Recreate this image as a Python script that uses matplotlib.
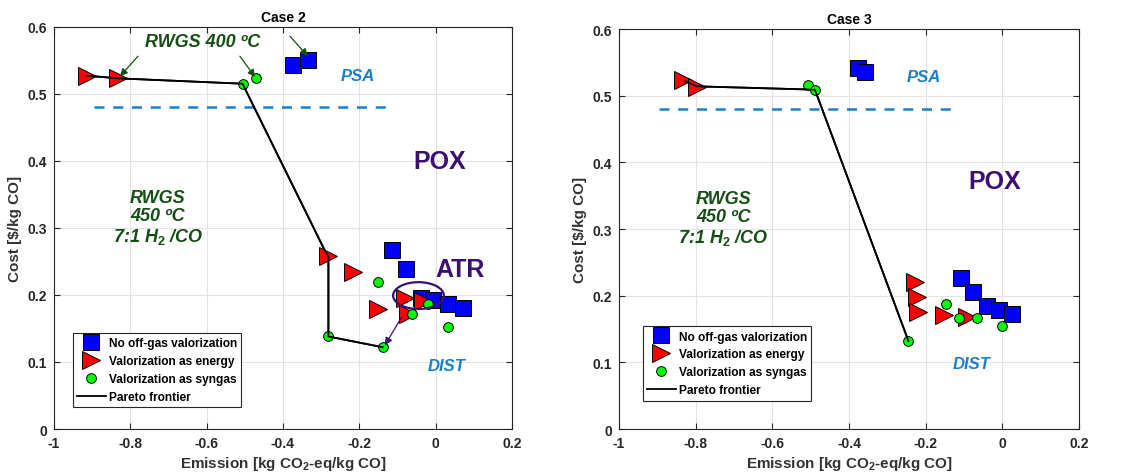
import matplotlib
matplotlib.use("Agg")
import matplotlib.pyplot as plt
from matplotlib.patches import Ellipse

plt.rcParams['font.family'] = ['Liberation Sans', 'DejaVu Sans']
plt.rcParams['font.weight'] = 'bold'
plt.rcParams['axes.labelweight'] = 'bold'
plt.rcParams['axes.titleweight'] = 'bold'
plt.rcParams['mathtext.fontset'] = 'custom'
plt.rcParams['mathtext.rm'] = 'Liberation Sans:bold'
plt.rcParams['mathtext.bf'] = 'Liberation Sans:bold'
plt.rcParams['mathtext.it'] = 'Liberation Sans:bold:italic'

# ---- Case 2 data ----
c2_none_x = [-0.373, -0.334, -0.115, -0.078, -0.039, -0.006, 0.033, 0.071]
c2_none_y = [0.543, 0.551, 0.267, 0.239, 0.195, 0.193, 0.186, 0.180]
c2_energy_x = [-0.914, -0.832, -0.281, -0.216, -0.150, -0.080, -0.072, -0.032]
c2_energy_y = [0.527, 0.523, 0.258, 0.234, 0.179, 0.195, 0.171, 0.191]
c2_syngas_x = [-0.506, -0.472, -0.152, -0.019, -0.063, 0.033, -0.281, -0.139]
c2_syngas_y = [0.515, 0.524, 0.220, 0.187, 0.171, 0.152, 0.138, 0.122]
c2_pareto_x = [-0.914, -0.832, -0.506, -0.292, -0.281, -0.281, -0.139]
c2_pareto_y = [0.527, 0.523, 0.515, 0.268, 0.258, 0.138, 0.122]

# ---- Case 3 data ----
c3_none_x = [-0.376, -0.358, -0.109, -0.076, -0.041, -0.008, 0.024]
c3_none_y = [0.542, 0.535, 0.226, 0.206, 0.184, 0.179, 0.1725]
c3_energy_x = [-0.832, -0.797, -0.228, -0.223, -0.219, -0.152, -0.091]
c3_energy_y = [0.523, 0.513, 0.220, 0.198, 0.176, 0.171, 0.168]
c3_syngas_x = [-0.508, -0.489, -0.147, -0.113, -0.065, 0.000, -0.245]
c3_syngas_y = [0.516, 0.509, 0.1875, 0.166, 0.1665, 0.154, 0.132]
c3_pareto_x = [-0.828, -0.797, -0.489, -0.245]
c3_pareto_y = [0.522, 0.514, 0.509, 0.132]

psa_level = 0.48
psa_x = [-0.895, -0.125]

dark_green = '#154e15'
purple = '#3b0f70'
lblue = '#1a7fc9'

fig = plt.figure(figsize=(11.34, 4.77), dpi=100)
ax2 = fig.add_axes([0.0476, 0.0985, 0.4039, 0.8434])
ax3 = fig.add_axes([0.5459, 0.0985, 0.4056, 0.8386])


def setup(ax, title):
    ax.set_xlim(-1, 0.2)
    ax.set_ylim(0, 0.6)
    ax.set_xticks([-1, -0.8, -0.6, -0.4, -0.2, 0, 0.2])
    ax.set_xticklabels(['-1', '-0.8', '-0.6', '-0.4', '-0.2', '0', '0.2'])
    ax.set_yticks([0, 0.1, 0.2, 0.3, 0.4, 0.5, 0.6])
    ax.set_yticklabels(['0', '0.1', '0.2', '0.3', '0.4', '0.5', '0.6'])
    ax.grid(True, color='#e3e3e3', lw=0.8)
    ax.set_axisbelow(True)
    ax.tick_params(direction='in', top=True, right=True, length=4, width=0.8,
                   labelsize=10, colors='#262626', pad=5)
    for lab in ax.get_xticklabels() + ax.get_yticklabels():
        lab.set_fontweight('bold')
    for s in ax.spines.values():
        s.set_color('#262626')
        s.set_linewidth(0.8)
    ax.set_title(title, fontsize=10, fontweight='bold', pad=4)
    ax.set_xlabel('Emission [kg CO$_2$-eq/kg CO]', fontsize=11, fontweight='bold',
                  color='#333333', labelpad=3)
    ax.set_ylabel(r'Cost [\$/kg CO]', fontsize=11, fontweight='bold',
                  color='#333333', labelpad=4)


def draw(ax, nx, ny, ex, ey, sx, sy, px, py, leg_anchor):
    ax.plot(psa_x, [psa_level, psa_level], ls=(0, (4, 3.5)), color=lblue, lw=1.8, zorder=2)
    hp, = ax.plot(px, py, color='black', lw=1.3, zorder=3)
    hn, = ax.plot(nx, ny, ls='none', marker='s', ms=11, mfc='#0000ff', mec='black', mew=0.7, zorder=4)
    he, = ax.plot(ex, ey, ls='none', marker='>', ms=13, mfc='#ff0000', mec='black', mew=0.7, zorder=5)
    hs, = ax.plot(sx, sy, ls='none', marker='o', ms=7, mfc='#00ff00', mec='black', mew=0.7, zorder=6)
    ax.plot(px, py, color='black', lw=1.3, zorder=7)
    leg = ax.legend([hn, he, hs, hp],
                    ['No off-gas valorization', 'Valorization as energy',
                     'Valorization as syngas', 'Pareto frontier'],
                    loc='lower left', bbox_to_anchor=leg_anchor, borderaxespad=0,
                    fancybox=False, framealpha=1, edgecolor='#262626',
                    handlelength=2.4, handletextpad=0.25, labelspacing=0.5,
                    borderpad=0.35, prop={'weight': 'bold', 'size': 8.6})
    leg.get_frame().set_linewidth(0.8)


setup(ax2, 'Case 2')
setup(ax3, 'Case 3')
draw(ax2, c2_none_x, c2_none_y, c2_energy_x, c2_energy_y, c2_syngas_x, c2_syngas_y,
     c2_pareto_x, c2_pareto_y, (0.041, 0.054))
draw(ax3, c3_none_x, c3_none_y, c3_energy_x, c3_energy_y, c3_syngas_x, c3_syngas_y,
     c3_pareto_x, c3_pareto_y, (0.0515, 0.071))

# ---- text labels, Case 2 ----
ax2.text(-0.61, 0.578, 'RWGS 400 ºC', color=dark_green, fontsize=13, style='italic',
         fontweight='bold', ha='center', va='center')
ax2.text(-0.203, 0.527, 'PSA', color=lblue, fontsize=12, style='italic', fontweight='bold',
         ha='center', va='center')
ax2.text(0.011, 0.399, 'POX', color=purple, fontsize=18, fontweight='bold', ha='center', va='center')
ax2.text(0.064, 0.238, 'ATR', color=purple, fontsize=18, fontweight='bold', ha='center', va='center')
ax2.text(0.029, 0.094, 'DIST', color=lblue, fontsize=12, style='italic', fontweight='bold',
         ha='center', va='center')
ax2.text(-0.728, 0.316, 'RWGS\n450 ºC\n7:1 H$_\\mathit{2}$ /CO', color=dark_green, fontsize=13,
         style='italic', fontweight='bold', ha='center', va='center', linespacing=1.1)

arrow_g = dict(arrowstyle='-|>', color=dark_green, lw=0.9, mutation_scale=11, shrinkA=0, shrinkB=0)
ax2.annotate('', xy=(-0.827, 0.526), xytext=(-0.780, 0.556), arrowprops=arrow_g, zorder=8)
ax2.annotate('', xy=(-0.473, 0.525), xytext=(-0.513, 0.556), arrowprops=arrow_g, zorder=8)
ax2.annotate('', xy=(-0.335, 0.556), xytext=(-0.382, 0.586), arrowprops=arrow_g, zorder=8)
arrow_p = dict(arrowstyle='-|>', color=purple, lw=0.9, mutation_scale=11, shrinkA=0, shrinkB=0)
ax2.annotate('', xy=(-0.133, 0.125), xytext=(-0.089, 0.167), arrowprops=arrow_p, zorder=8)
ax2.add_patch(Ellipse((-0.045, 0.199), 0.133, 0.040, fill=False, ec=purple, lw=1.6, zorder=8))

# ---- text labels, Case 3 ----
ax3.text(-0.206, 0.529, 'PSA', color=lblue, fontsize=12, style='italic', fontweight='bold',
         ha='center', va='center')
ax3.text(-0.019, 0.372, 'POX', color=purple, fontsize=18, fontweight='bold', ha='center', va='center')
ax3.text(-0.08, 0.099, 'DIST', color=lblue, fontsize=12, style='italic', fontweight='bold',
         ha='center', va='center')
ax3.text(-0.728, 0.316, 'RWGS\n450 ºC\n7:1 H$_\\mathit{2}$ /CO', color=dark_green, fontsize=13,
         style='italic', fontweight='bold', ha='center', va='center', linespacing=1.1)

plt.savefig('out.png', dpi=100, facecolor='white')
